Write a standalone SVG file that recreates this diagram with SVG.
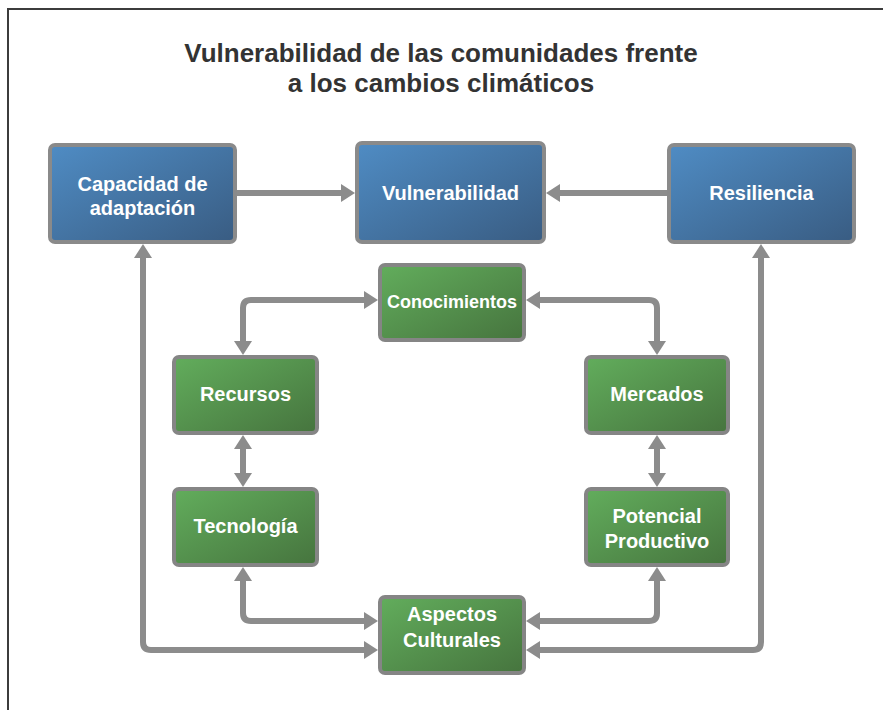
<svg xmlns="http://www.w3.org/2000/svg" width="883" height="710" viewBox="0 0 883 710">
<defs>
<linearGradient id="gBlue" x1="0" y1="0" x2="1" y2="1">
<stop offset="0" stop-color="#4f8cc4"/>
<stop offset="1" stop-color="#395c82"/>
</linearGradient>
<linearGradient id="gGreen" x1="0" y1="0" x2="1" y2="1">
<stop offset="0" stop-color="#62ad5c"/>
<stop offset="1" stop-color="#46743e"/>
</linearGradient>
<marker id="ah" viewBox="0 0 14 18" refX="0" refY="9" markerWidth="14" markerHeight="18" markerUnits="userSpaceOnUse" orient="auto-start-reverse">
<path d="M0,0 L14,9 L0,18 z" fill="#8c8c8c"/>
</marker>
<style>
.blue{fill:url(#gBlue);stroke:#8a8a8a;stroke-width:4}
.green{fill:url(#gGreen);stroke:#858585;stroke-width:4}
.lbl{font-family:"Liberation Sans",Arial,sans-serif;font-weight:bold;fill:#ffffff;text-anchor:middle;font-size:20px}
.sm{font-size:18px}
.title{font-family:"Liberation Sans",Arial,sans-serif;font-weight:bold;font-size:26px;fill:#333333;text-anchor:middle}
.c{fill:none;stroke:#8c8c8c;stroke-width:6}
.c2{marker-start:url(#ah);marker-end:url(#ah)}
.c1{marker-end:url(#ah)}
</style>
</defs>
<rect x="0" y="0" width="883" height="710" fill="#ffffff"/>
<path d="M8,710 V9 H883" fill="none" stroke="#3c3c3c" stroke-width="2"/>
<text class="title" x="441" y="62">Vulnerabilidad de las comunidades frente</text>
<text class="title" x="441" y="92">a los cambios climáticos</text>
<g id="connectors">
<path class="c c1" d="M237,193 H341"/>
<path class="c c1" d="M667,193 H560"/>
<path class="c c2" d="M364,300 H251 Q243,300 243,308 V341"/>
<path class="c c2" d="M540,300 H649 Q657,300 657,308 V341"/>
<path class="c c2" d="M243,449 V473"/>
<path class="c c2" d="M657,449 V473"/>
<path class="c c2" d="M243,581 V613 Q243,621 251,621 H364"/>
<path class="c c2" d="M657,581 V613 Q657,621 649,621 H540"/>
<path class="c c2" d="M143,258 V642 Q143,650 151,650 H364"/>
<path class="c c2" d="M761,258 V642 Q761,650 753,650 H540"/>
</g>
<g id="capacidad">
<rect class="blue" x="50" y="145" width="185" height="97" rx="5"/>
<text class="lbl" x="142.5" y="191">Capacidad de</text>
<text class="lbl" x="142.5" y="215">adaptación</text>
</g>
<g id="vulnerabilidad">
<rect class="blue" x="357" y="143" width="187" height="99" rx="5"/>
<text class="lbl" x="450.5" y="200">Vulnerabilidad</text>
</g>
<g id="resiliencia">
<rect class="blue" x="669" y="145" width="185" height="97" rx="5"/>
<text class="lbl" x="761.5" y="200">Resiliencia</text>
</g>
<g id="conocimientos">
<rect class="green" x="380" y="265" width="144" height="75" rx="5"/>
<text class="lbl sm" x="452" y="308">Conocimientos</text>
</g>
<g id="recursos">
<rect class="green" x="174" y="357" width="143" height="76" rx="5"/>
<text class="lbl" x="245.5" y="401">Recursos</text>
</g>
<g id="mercados">
<rect class="green" x="586" y="357" width="142" height="76" rx="5"/>
<text class="lbl" x="657" y="401">Mercados</text>
</g>
<g id="tecnologia">
<rect class="green" x="174" y="489" width="143" height="76" rx="5"/>
<text class="lbl" x="245.5" y="533">Tecnología</text>
</g>
<g id="potencial">
<rect class="green" x="586" y="489" width="142" height="76" rx="5"/>
<text class="lbl" x="657" y="523">Potencial</text>
<text class="lbl" x="657" y="548">Productivo</text>
</g>
<g id="aspectos">
<rect class="green" x="380" y="597" width="144" height="76" rx="5"/>
<text class="lbl" x="452" y="621">Aspectos</text>
<text class="lbl" x="452" y="647">Culturales</text>
</g>
</svg>
